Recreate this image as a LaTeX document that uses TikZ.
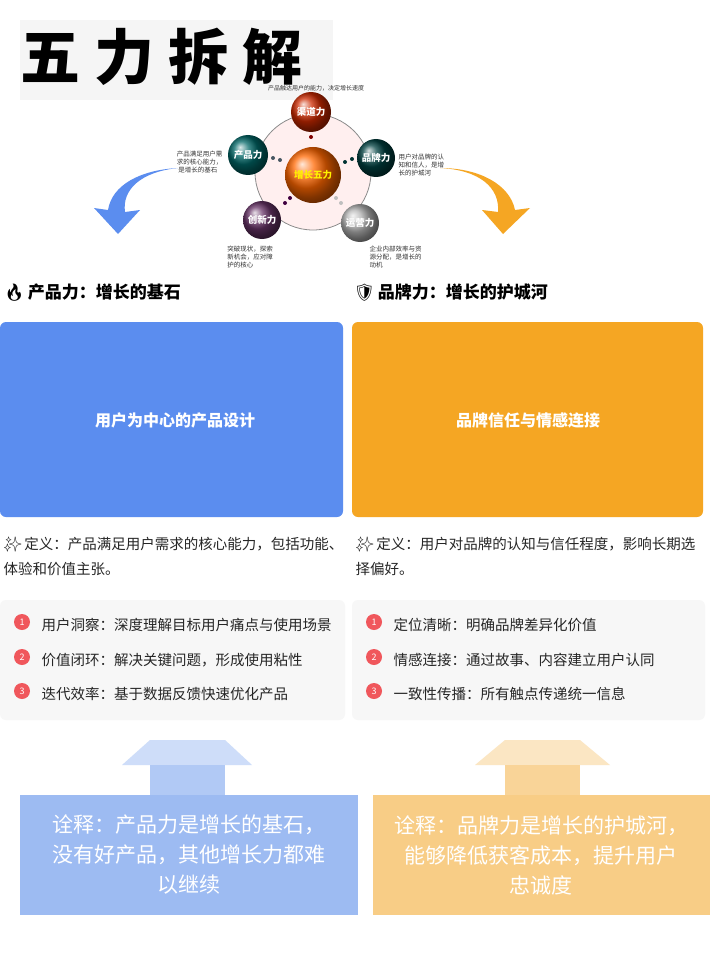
\documentclass[tikz,border=0pt]{standalone}
\usepackage{fontspec}
\setmainfont{Noto Sans CJK SC}
\newfontfamily\emo{Noto Emoji}
\usetikzlibrary{arrows.meta}
\definecolor{bluebox}{HTML}{5B8DEF}
\definecolor{orangebox}{HTML}{F5A623}
\definecolor{paleblue}{HTML}{9DBBF2}
\definecolor{paleorange}{HTML}{F8CD86}
\definecolor{panel}{HTML}{F7F7F7}
\definecolor{numred}{HTML}{F0575C}
\tikzset{
 ball/.style={circle,minimum size=#1,inner sep=0pt,text=white,font=\bfseries\fontsize{9.5}{10}\selectfont},
 tiny/.style={font=\fontsize{6.5}{8}\selectfont,text=black!80,align=left},
 head/.style={anchor=west,font=\bfseries\fontsize{17}{20}\selectfont},
 body/.style={anchor=west,font=\fontsize{14.5}{25}\selectfont,text=black!85},
 num/.style={circle,fill=numred,text=white,minimum size=16pt,inner sep=0pt,font=\fontsize{9}{9}\selectfont},
 dot/.style={circle,fill=#1,minimum size=4pt,inner sep=0pt},
}
\begin{document}
\begin{tikzpicture}[x=1pt,y=-1pt]
\useasboundingbox (0,0) rectangle (720,960);
\fill[white] (0,0) rectangle (720,960);
% title
\fill[black!4] (20,20) rectangle (333,100);
\node[font=\bfseries\fontsize{60}{64}\selectfont,anchor=west,inner sep=0pt] (title) at (20,57) {五\hspace{14pt}力\hspace{14pt}拆\hspace{14pt}解};
% diagram
\fill[pink!25] (313,172) circle (58);
\draw[black!45,line width=0.8pt] (313,172) circle (58);
\shade[ball color=orange!80!red] (313,175) circle (28);
\node[ball=56pt,text=yellow] (c) at (313,175) {增长五力};
\shade[ball color=red!60!orange!80!black] (311,112) circle (20);
\node[ball=40pt] (q) at (311,112) {渠道力};
\shade[ball color=cyan!40!black] (248,155) circle (20);
\node[ball=40pt] (p) at (248,155) {产品力};
\shade[ball color=teal!50!black] (376,158) circle (19);
\node[ball=38pt] (b) at (376,158) {品牌力};
\shade[ball color=violet!50!black!80] (262,220) circle (19);
\node[ball=38pt] (x) at (262,220) {创新力};
\shade[ball color=black!30] (360,223) circle (19);
\node[ball=38pt] (y) at (360,223) {运营力};
\node[dot=red!50!black] at (311,137) {};
\node[dot=cyan!30!black] at (273,158) {};\node[dot=cyan!30!black] at (280,160) {};
\node[dot=teal!40!black] at (345,162) {};\node[dot=teal!40!black] at (352,159) {};
\node[dot=violet!50!black] at (285,203) {};\node[dot=violet!50!black] at (290,198) {};
\node[dot=black!25] at (336,198) {};\node[dot=black!25] at (341,203) {};
\node[tiny,font=\fontsize{6}{7}\selectfont,inner sep=1pt] at (316,88) {产品触达用户的能力，决定增长速度};
\node[tiny,anchor=north east] at (226,147) {产品满足用户需\\求的核心能力，\\\ 是增长的基石};
\node[tiny,anchor=north west] at (395,150) {用户对品牌的认\\知和信人，是增\\长的护城河};
\node[tiny,anchor=north] at (250,242) {突破现状，探索\\新机会，应对障\\护的核心};
\node[tiny,anchor=north west] at (366,242) {企业内部效率与资\\源分配，是增长的\\动机};
% curved arrows
\fill[bluebox] (178,168) .. controls (140,172) and (122,190) .. (125,212) -- (140,210) -- (118,234) -- (94,208) -- (108,210) .. controls (112,185) and (140,170) .. (178,168) -- cycle;
\fill[orangebox] (440,168) .. controls (480,170) and (500,188) .. (498,212) -- (482,210) -- (503,234) -- (530,208) -- (515,210) .. controls (510,185) and (480,168) .. (440,168) -- cycle;
% headers
\node[head] (h1) at (0,293) {{\emo 🔥}\,产品力：增长的基石};
\node[head] (h2) at (350,293) {{\emo 🛡}\,品牌力：增长的护城河};
% boxes
\fill[bluebox,rounded corners=6pt] (0,322) rectangle (343,517);
\fill[orangebox,rounded corners=6pt] (352,322) rectangle (703,517);
\node[text=white,font=\bfseries\fontsize{16}{18}\selectfont] (bt1) at (175,420) {用户为中心的产品设计};
\node[text=white,font=\bfseries\fontsize{16}{18}\selectfont] (bt2) at (528,420) {品牌信任与情感连接};
% definitions
\node[body,anchor=north west,align=left] (d1) at (0,534) {{\emo ✨}\,定义：产品满足用户需求的核心能力，包括功能、\\体验和价值主张。};
\node[body,anchor=north west,align=left] (d2) at (352,534) {{\emo ✨}\,定义：用户对品牌的认知与信任程度，影响长期选\\择偏好。};
% panels
\fill[panel,rounded corners=6pt] (0,600) rectangle (345,720);
\fill[panel,rounded corners=6pt] (352,600) rectangle (705,720);
\foreach \y/\n/\t in {625/1/用户洞察：深度理解目标用户痛点与使用场景,660/2/价值闭环：解决关键问题，形成使用粘性,694/3/迭代效率：基于数据反馈快速优化产品}{
 \node[num] (l\n) at (22,\y-3) {\n};
 \node[body] at (38,\y) {\t};
}
\foreach \y/\n/\t in {625/1/定位清晰：明确品牌差异化价值,660/2/情感连接：通过故事、内容建立用户认同,694/3/一致性传播：所有触点传递统一信息}{
 \node[num] (r\n) at (374,\y-3) {\n};
 \node[body] at (390,\y) {\t};
}
% bottom arrows and boxes
\fill[paleblue!50] (150,740) -- (225,740) -- (252,765) -- (122,765) -- cycle;
\fill[paleblue!80] (150,765) rectangle (225,795);
\fill[paleblue] (20,795) rectangle (358,915);
\node[text=white,align=center,font=\fontsize{21}{30}\selectfont] (n1) at (189,855) {诠释：产品力是增长的基石，\\没有好产品，其他增长力都难\\以继续};
\fill[paleorange!50] (505,740) -- (580,740) -- (610,765) -- (475,765) -- cycle;
\fill[paleorange!85] (505,765) rectangle (580,795);
\fill[paleorange] (373,795) rectangle (710,915);
\node[text=white,align=center,font=\fontsize{21}{30}\selectfont] (n2) at (541,855) {诠释：品牌力是增长的护城河，\\能够降低获客成本，提升用户\\忠诚度};
\end{tikzpicture}
\end{document}
